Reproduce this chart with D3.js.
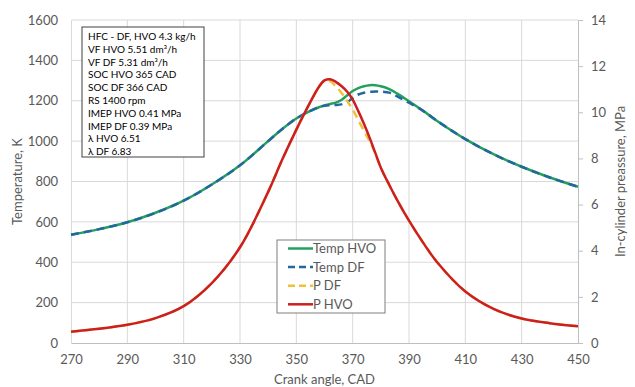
<!DOCTYPE html>
<html>
<head>
<meta charset="utf-8">
<script src="https://cdn.jsdelivr.net/npm/d3@7"></script>
<style>
  body { margin: 0; background: #fff; }
  text { font-family: Lato, "Liberation Sans", sans-serif; }
</style>
</head>
<body>
<div id="chart"></div>
<script>
// Crank angle points
var cad = [270,280,290,300,310,320,330,340,345,350,355,358,360,362,364,366,368,370,372,374,376,378,380,383,386,390,395,400,410,420,430,440,450]

// Temperature, K
var tempHVO = [536,564,598,645,705,785,880,1000,1060,1112,1150,1168,1177,1184,1191,1204,1226,1248,1263,1272,1277,1277,1272,1258,1234,1197,1150,1100,1010,935,873,820,774]
var tempDF  = [536,564,598,645,705,785,880,1000,1060,1112,1150,1168,1175,1178,1179,1182,1192,1214,1231,1240,1244,1246,1246,1240,1220,1190,1150,1100,1010,935,873,820,774]

// In-cylinder pressure, MPa
var pHVO = [0.49,0.62,0.79,1.08,1.6,2.6,4.15,6.55,7.95,9.25,10.45,11.1,11.38,11.43,11.32,11.14,10.9,10.55,10.05,9.5,8.9,8.25,7.6,6.85,6.15,5.3,4.35,3.5,2.23,1.48,1.06,0.86,0.73]
var pDF  = [0.49,0.62,0.79,1.08,1.6,2.6,4.15,6.55,7.95,9.25,10.45,11.1,11.36,11.35,11.12,10.85,10.5,10.12,9.66,9.2,8.75,8.22,7.6,6.85,6.15,5.3,4.35,3.5,2.23,1.48,1.06,0.86,0.73]

// Tick labels
var xTicks = [270,290,310,330,350,370,390,410,430,450]
var yTicks = [0,200,400,600,800,1000,1200,1400,1600]
var y2Ticks = [0,2,4,6,8,10,12,14]

var notes = ["HFC - DF, HVO 4.3 kg/h", "VF HVO 5.51 dm³/h", "VF DF 5.31 dm³/h", "SOC HVO 365 CAD",
  "SOC DF 366 CAD", "RS 1400 rpm", "IMEP HVO 0.41 MPa", "IMEP DF 0.39 MPa", "λ HVO 6.51", "λ DF 6.83"]

var series = [
  {name: "Temp HVO", x: cad, y: tempHVO, axis: "T", color: "#23a05c", dash: null},
  {name: "Temp DF", x: cad, y: tempDF, axis: "T", color: "#22679f", dash: "8,5"},
  {name: "P DF", x: cad, y: pDF, axis: "P", color: "#f2c037", dash: "8,5"},
  {name: "P HVO", x: cad, y: pHVO, axis: "P", color: "#cc1f1f", dash: null}
]

var W = 635, H = 387
var margin = {top: 20, right: 57, bottom: 44, left: 71}
var width = W - margin.left - margin.right
var height = H - margin.top - margin.bottom

var x = d3.scaleLinear().domain([270, 450]).range([0, width])
var yT = d3.scaleLinear().domain([0, 1600]).range([height, 0])
var yP = d3.scaleLinear().domain([0, 14]).range([height, 0])

var svg = d3.select('#chart').append('svg')
  .attr('width', W).attr('height', H)
var g = svg.append('g')
  .attr('transform', 'translate(' + margin.left + ',' + margin.top + ')')

// grid
g.selectAll('.hgrid').data(yTicks.slice(1)).enter().append('line')
  .attr('x1', 0).attr('x2', width)
  .attr('y1', d => yT(d)).attr('y2', d => yT(d))
  .attr('stroke', '#d9d9d9').attr('stroke-width', 1)
g.selectAll('.vgrid').data(xTicks.slice(1, -1)).enter().append('line')
  .attr('x1', d => x(d)).attr('x2', d => x(d))
  .attr('y1', 0).attr('y2', height)
  .attr('stroke', '#d9d9d9').attr('stroke-width', 1)

// Axes
var xAxis = g.append('g')
  .attr('transform', `translate(0, ${height})`)
  .call(d3.axisBottom(x).tickValues(xTicks).tickSize(0).tickPadding(12))
var yAxis = g.append('g')
  .call(d3.axisLeft(yT).tickValues(yTicks).tickFormat(d3.format('d')).tickSize(0).tickPadding(13))
var y2Axis = g.append('g')
  .attr('transform', `translate(${width}, 0)`)
  .call(d3.axisRight(yP).tickValues(y2Ticks).tickSize(5).tickPadding(8))

svg.selectAll('.domain').attr('stroke', '#bfbfbf')
svg.selectAll('.tick line').attr('stroke', '#bfbfbf')
svg.selectAll('.tick text').attr('fill', '#595959').style('font-size', '13px')
  .style('font-family', 'Lato, "Liberation Sans", sans-serif')
yAxis.select('.domain').attr('stroke', '#d9d9d9')

// Axis titles
svg.append('text')
  .attr('transform', 'translate(22,' + (margin.top + height / 2) + ') rotate(-90)')
  .attr('text-anchor', 'middle').attr('fill', '#595959').style('font-size', '13px')
  .text('Temperature, K')
svg.append('text')
  .attr('transform', 'translate(625,' + (margin.top + height / 2) + ') rotate(-90)')
  .attr('text-anchor', 'middle').attr('fill', '#595959').style('font-size', '13px')
  .text('In-cylinder preassure, MPa')
svg.append('text')
  .attr('x', margin.left + width / 2).attr('y', 384)
  .attr('text-anchor', 'middle').attr('fill', '#595959').style('font-size', '13px')
  .text('Crank angle, CAD')

// Draw the lines
series.forEach(function(s) {
  var yScale = s.axis === 'T' ? yT : yP
  var line = d3.line()
    .x(function(d, i) { return x(s.x[i]) })
    .y(function(d) { return yScale(d) })
    .curve(d3.curveCatmullRom.alpha(0.5))
  g.append('path')
    .datum(s.y)
    .attr('fill', 'none')
    .attr('stroke', s.color)
    .attr('stroke-width', 2.5)
    .attr('stroke-dasharray', s.dash)
    .attr('d', line)
})

// Notes box
var nb = svg.append('g').attr('transform', 'translate(82,27)')
nb.append('rect').attr('width', 122).attr('height', 130)
  .attr('fill', '#fff').attr('stroke', '#404040').attr('stroke-width', 1)
nb.selectAll('text').data(notes).enter().append('text')
  .attr('x', 6).attr('y', (d, i) => 13 + i * 12.8)
  .attr('fill', '#000').style('font-size', '10px')
  .text(d => d)

// Legend
var lg = svg.append('g').attr('transform', 'translate(277,240)')
lg.append('rect').attr('width', 108).attr('height', 73)
  .attr('fill', '#fff').attr('stroke', '#7f7f7f').attr('stroke-width', 1)
series.forEach(function(s, i) {
  var yy = 8.5 + i * 18.6
  lg.append('line').attr('x1', 11).attr('x2', 36).attr('y1', yy).attr('y2', yy)
    .attr('stroke', s.color).attr('stroke-width', 2.5).attr('stroke-dasharray', s.dash ? '7,4' : null)
  lg.append('text').attr('x', 36).attr('y', yy + 4.5)
    .attr('fill', '#595959').style('font-size', '13px').text(s.name)
})
</script>
</body>
</html>
